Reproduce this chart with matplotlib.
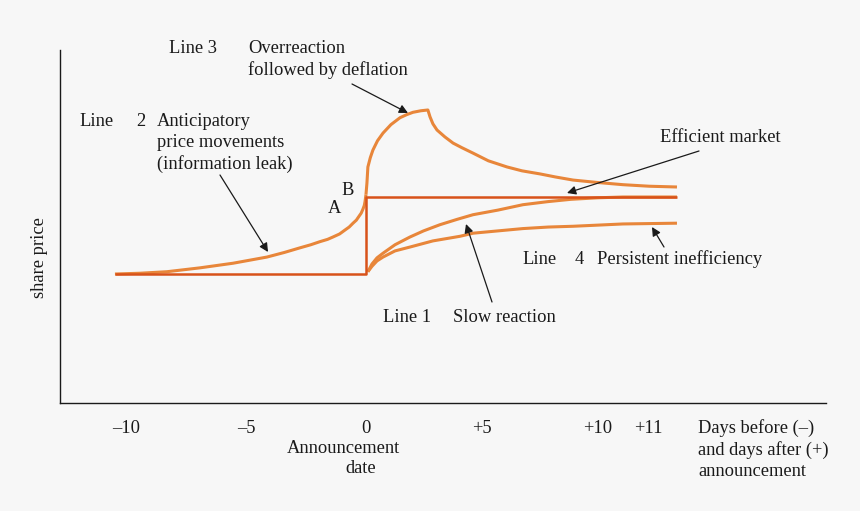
import matplotlib
matplotlib.use("Agg")
import matplotlib.pyplot as plt

plt.rcParams['font.family'] = ['Liberation Serif', 'DejaVu Serif']
plt.rcParams['font.size'] = 13.3

# days relative to announcement, price relative to the pre-announcement level
line2_x = [-10.46, -9.42, -8.29, -6.92, -5.54, -4.13, -3.4, -2.75, -2.3, -1.92, -1.6, -1.38, -1.1,
           -0.88, -0.7, -0.54, -0.4, -0.29, -0.2, -0.13, -0.07, -0.04, 0.0]
line2_y = [0.0, 0.01, 0.03, 0.08, 0.14, 0.22, 0.28, 0.34, 0.38, 0.42, 0.45, 0.48, 0.52,
           0.57, 0.61, 0.66, 0.70, 0.75, 0.79, 0.84, 0.89, 0.94, 1.03]

line3_x = [0.0, 0.04, 0.08, 0.18, 0.29, 0.48, 0.71, 1.04, 1.42, 1.7, 1.96, 2.29, 2.58, 2.67, 2.79, 2.96,
           3.29, 3.63, 4.0, 4.46, 5.1, 5.88, 6.5, 7.25, 7.9, 8.63, 9.6, 10.71, 11.8, 12.96]
line3_y = [1.03, 1.18, 1.39, 1.51, 1.61, 1.73, 1.83, 1.94, 2.03, 2.07, 2.10, 2.12, 2.13, 2.04, 1.95, 1.87,
           1.78, 1.70, 1.64, 1.57, 1.47, 1.39, 1.34, 1.30, 1.26, 1.22, 1.19, 1.16, 1.14, 1.13]

line1_x = [0.08, 0.25, 0.46, 0.71, 1.21, 1.83, 2.4, 3.08, 3.8, 4.46, 5.5, 6.54, 7.58, 8.54, 9.67, 10.71, 12.96]
line1_y = [0.03, 0.13, 0.21, 0.27, 0.38, 0.48, 0.56, 0.64, 0.71, 0.77, 0.83, 0.90, 0.94, 0.97, 0.99, 1.0, 1.0]

line4_x = [0.08, 0.25, 0.46, 0.71, 1.21, 1.83, 2.79, 3.92, 4.46, 5.5, 6.54, 7.6, 8.63, 10.71, 12.96]
line4_y = [0.03, 0.10, 0.17, 0.22, 0.30, 0.35, 0.43, 0.49, 0.53, 0.56, 0.59, 0.61, 0.62, 0.65, 0.66]

eff_x = [-10.46, 0.0, 0.0, 12.96]
eff_y = [0.0, 0.0, 1.0, 1.0]

tick_pos = [-10, -5, 0, 4.83, 9.67, 11.75]
tick_labels = ['–10', '–5', '0', '+5', '+10', '+11']

ORANGE = '#e8863a'
RED = '#d8521a'
INK = '#1a1a1a'
BG = '#f7f7f7'

fig = plt.figure(figsize=(8.6, 5.11), dpi=100, facecolor=BG)
ax = fig.add_axes([60 / 860, 108 / 511, 766 / 860, 353 / 511], facecolor=BG)

for xs, ys in [(line2_x, line2_y), (line3_x, line3_y), (line1_x, line1_y), (line4_x, line4_y)]:
    ax.plot(xs, ys, color=ORANGE, lw=2.2, solid_capstyle='butt', solid_joinstyle='round')
ax.plot(eff_x, eff_y, color=RED, lw=1.8, solid_capstyle='butt')

ax.set_xlim(-12.75, 19.17)
ax.set_ylim(-1.675, 2.909)
for s in ['top', 'right']:
    ax.spines[s].set_visible(False)
for s in ['left', 'bottom']:
    ax.spines[s].set_color(INK)
    ax.spines[s].set_linewidth(1.0)
ax.set_yticks([])
ax.set_xticks(tick_pos)
ax.set_xticklabels(tick_labels)
ax.tick_params(axis='x', length=0, pad=12.5, labelsize=13.3, colors=INK)


def fp(x, y):
    # figure pixels from the top-left corner
    return (x, 511 - y)


def label(x, y, s, **kw):
    ax.annotate(s, xy=fp(x, y), xycoords='figure pixels', ha=kw.pop('ha', 'left'),
                va='center', color=INK, fontsize=13.3, linespacing=1.3, **kw)


def arrow(x0, y0, x1, y1):
    ax.annotate('', xy=fp(x1, y1), xycoords='figure pixels', xytext=fp(x0, y0),
                textcoords='figure pixels',
                arrowprops=dict(arrowstyle='-|>', color=INK, lw=0.9, mutation_scale=13,
                                shrinkA=0, shrinkB=0))


label(169, 48, 'Line 3')
label(248, 59.5, 'Overreaction\nfollowed by deflation')
label(79, 121, 'Line')
label(136, 121, '2')
label(157, 143, 'Anticipatory\nprice movements\n(information leak)')
label(341, 190, 'B')
label(328, 208, 'A')
label(660, 137, 'Efficient market')
label(522, 259, 'Line')
label(575, 259, '4')
label(597, 259, 'Persistent inefficiency')
label(383, 317, 'Line 1')
label(453, 317, 'Slow reaction')
label(343, 448, 'Announcement', ha='center')
label(361, 468, 'date', ha='center')
label(698, 449.5, 'Days before (–)\nand days after (+)\nannouncement')

fig.text(40 / 860, 1 - 258 / 511, 'share price', rotation=90, ha='center', va='center',
         color=INK, fontsize=13.3)

arrow(352, 84, 408, 113)
arrow(220, 175, 268, 252)
arrow(699, 151, 567, 193)
arrow(492, 302, 466, 224)
arrow(664, 247, 652, 227)

fig.savefig('out.png', dpi=100, facecolor=BG)
